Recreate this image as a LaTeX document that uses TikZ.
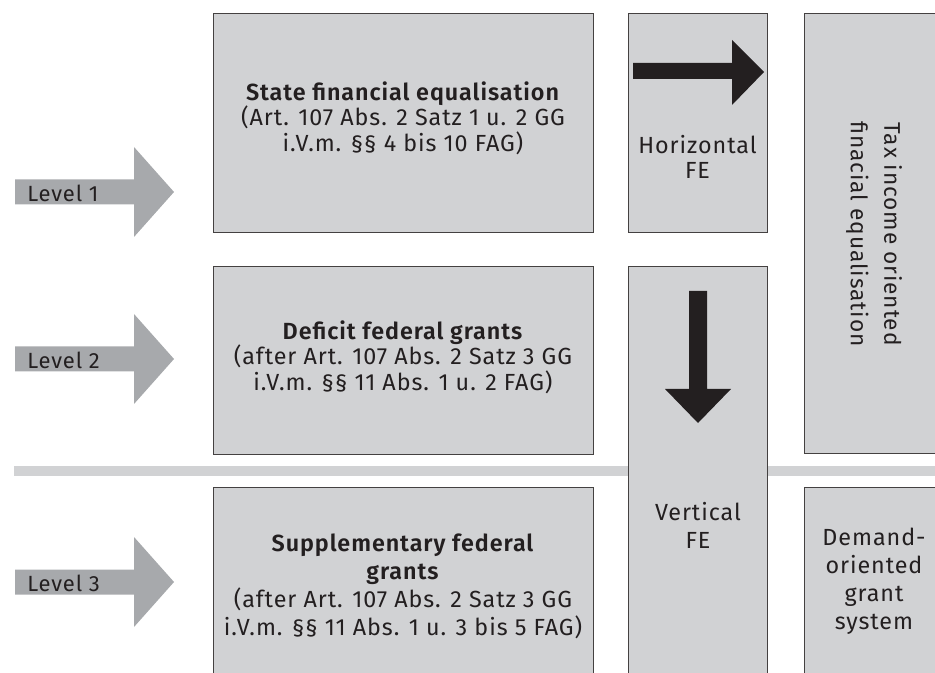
\documentclass[tikz,border=0pt]{standalone}
\usepackage{fontspec}
\setmainfont{Fira Sans}[BoldFont={Fira Sans SemiBold}, LetterSpace=4]
\definecolor{boxgray}{HTML}{D1D2D4}
\definecolor{levelgray}{HTML}{A7A9AC}
\definecolor{inkblack}{HTML}{231F20}
\tikzset{
	fabox/.style={draw=inkblack!85, line width=0.6pt, fill=boxgray},
	fatext/.style={align=center, text=inkblack, font=\fontsize{17.5}{19}\selectfont, inner sep=0pt},
	fawide/.style={fatext, font=\fontsize{17.5}{21}\selectfont},
}
\begin{document}
\begin{tikzpicture}[x=0.75pt,y=-0.75pt]
		\useasboundingbox (0,0) rectangle (935,673);
		%% separator
		\fill[boxgray] (14,466) rectangle (945,476);
		%% boxes
		\draw[fabox] (213,13) rectangle (593,232);
		\draw[fabox] (628,13) rectangle (767,232);
		\draw[fabox] (804,13) rectangle (945,453);
		\draw[fabox] (213,266) rectangle (593,454);
		\draw[fabox] (628,266) rectangle (767,690);
		\draw[fabox] (213,487) rectangle (593,690);
		\draw[fabox] (804,487) rectangle (945,690);
		%% levels
		\foreach \lvl/\y in {1/192, 2/359, 3/582} {
			\fill[levelgray] (15,\y-12.5) -- (134,\y-12.5) -- (134,\y-45) -- (174,\y)
				-- (134,\y+45) -- (134,\y+12.5) -- (15,\y+12.5) -- cycle;
			\node[fatext, font=\fontsize{16.5}{18}\selectfont, anchor=west] (level\lvl) at (27,\y+1) {Level \lvl};
		}
		%% FE arrows
		\fill[inkblack] (633,63) -- (732,63) -- (732,40) -- (764,72) -- (732,105) -- (732,79) -- (633,79) -- cycle;
		\fill[inkblack] (689,291) -- (707,291) -- (707,389) -- (731,389) -- (698,423) -- (665,389) -- (689,389) -- cycle;
		%% texts
		\node[fatext] (state) at (403,118) {\textbf{State financial equalisation}\\(Art. 107 Abs. 2 Satz 1 u. 2 GG\\i.V.m. §§ 4 bis 10 FAG)};
		\node[fatext] (horiz) at (697.5,157) {Horizontal\\FE};
		\node[fatext, font=\fontsize{17}{25}\selectfont, rotate=-90] (tax) at (874,234) {Tax income oriented\\finacial equalisation};
		\node[fatext] (deficit) at (403,357) {\textbf{Deficit federal grants}\\(after Art. 107 Abs. 2 Satz 3 GG\\i.V.m. §§ 11 Abs. 1 u. 2 FAG)};
		\node[fawide] (vert) at (698,525) {Vertical\\FE};
		\node[fawide] (supp) at (403,586) {\textbf{Supplementary federal}\\\textbf{grants}\\(after Art. 107 Abs. 2 Satz 3 GG\\i.V.m. §§ 11 Abs. 1 u. 3 bis 5 FAG)};
		\node[fawide] (demand) at (874,581) {Demand-\\oriented\\grant\\system};
	\end{tikzpicture}
\end{document}
